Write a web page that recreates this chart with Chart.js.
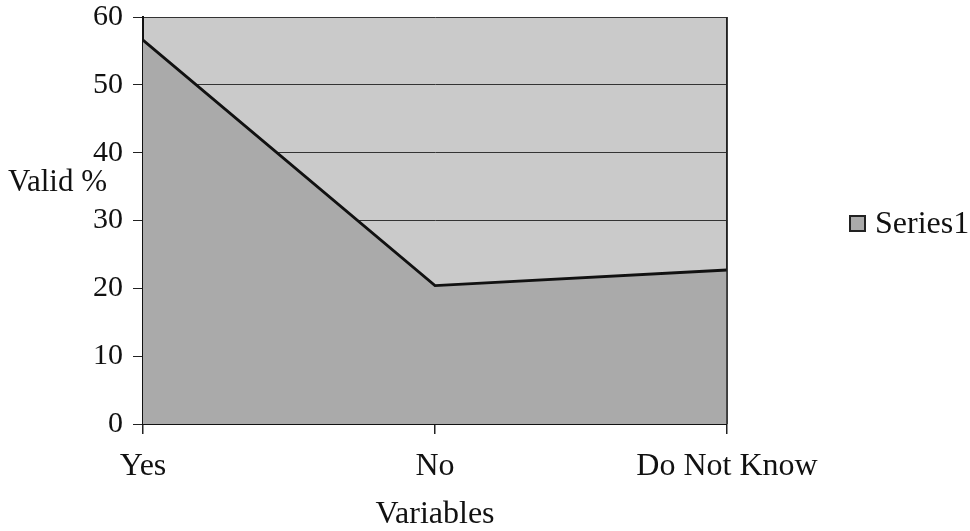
<!DOCTYPE html>
<html lang="en">
<head>
  <meta charset="UTF-8" />
  <title>Valid %</title>
  <script src="https://cdn.jsdelivr.net/npm/chart.js"></script>
  <style>
    html, body { margin: 0; padding: 0; background: #fff; }
    #wrap { width: 970px; height: 531px; }
  </style>
</head>
<body>
  <div id="wrap"><canvas id="chart" width="970" height="531"></canvas></div>

  <script>
    // Dados do gráfico
    const categorias = ['Yes', 'No', 'Do Not Know'];
    const valores = [56.6, 20.4, 22.7];
    const nomeSerie = 'Series1';
    const yMin = 0, yMax = 60, yPasso = 10;

    const fonte = 'Liberation Serif, Times New Roman, serif';
    const corFundo = '#cacaca';
    const corArea = '#aaaaaa';

    // fundo da área do gráfico, título do eixo Y e legenda
    const extras = {
      id: 'extras',
      beforeDraw(chart) {
        const { ctx, chartArea: a } = chart;
        ctx.save();
        ctx.fillStyle = corFundo;
        ctx.fillRect(a.left, a.top, a.right - a.left, a.bottom - a.top);
        ctx.restore();
      },
      afterDraw(chart) {
        const { ctx, chartArea: a } = chart;
        ctx.save();
        // borda direita
        ctx.strokeStyle = '#222';
        ctx.lineWidth = 1.5;
        ctx.beginPath();
        ctx.moveTo(a.right, a.top);
        ctx.lineTo(a.right, a.bottom);
        ctx.stroke();

        ctx.fillStyle = '#111';
        ctx.font = '31px ' + fonte;
        ctx.textBaseline = 'middle';
        ctx.textAlign = 'left';
        ctx.fillText('Valid %', 8, 183);

        // legenda
        ctx.font = '32px ' + fonte;
        ctx.fillStyle = corArea;
        ctx.fillRect(850, 216, 15, 15);
        ctx.strokeStyle = '#222';
        ctx.lineWidth = 2;
        ctx.strokeRect(850, 216, 15, 15);
        ctx.fillStyle = '#111';
        ctx.fillText(nomeSerie, 875, 225);
        ctx.restore();
      }
    };

    new Chart(document.getElementById('chart'), {
      type: 'line',
      data: {
        labels: categorias,
        datasets: [{
          label: nomeSerie,
          data: valores,
          fill: 'origin',
          backgroundColor: corArea,
          borderColor: '#111',
          borderWidth: 2.8,
          pointRadius: 0,
          tension: 0
        }]
      },
      options: {
        responsive: false,
        animation: false,
        layout: { padding: { top: 17, right: 243, left: 0, bottom: 0 } },
        plugins: {
          legend: { display: false },
          tooltip: { enabled: false }
        },
        scales: {
          x: {
            offset: false,
            afterFit: s => { s.height = 107; s.paddingLeft = 0; s.paddingRight = 0; },
            grid: {
              color: c => (c.index === 1 ? 'rgba(0,0,0,0)' : '#222'),
              tickColor: '#222',
              tickLength: 10,
              lineWidth: 1.5
            },
            border: { color: '#111', width: 2 },
            ticks: {
              color: '#111',
              font: { family: fonte, size: 32 },
              padding: 13,
              maxRotation: 0
            },
            title: {
              display: true,
              text: 'Variables',
              color: '#111',
              font: { family: fonte, size: 32, lineHeight: 1 },
              padding: { top: 0, bottom: 0 }
            }
          },
          y: {
            min: yMin,
            max: yMax,
            afterFit: s => { s.width = 143; s.paddingTop = 0; s.paddingBottom = 0; },
            grid: {
              color: '#333',
              tickColor: '#222',
              tickLength: 10,
              lineWidth: 1
            },
            border: { color: '#111', width: 2 },
            ticks: {
              stepSize: yPasso,
              color: '#111',
              font: { family: fonte, size: 30 },
              padding: 10
            }
          }
        }
      },
      plugins: [extras]
    });
  </script>
</body>
</html>
